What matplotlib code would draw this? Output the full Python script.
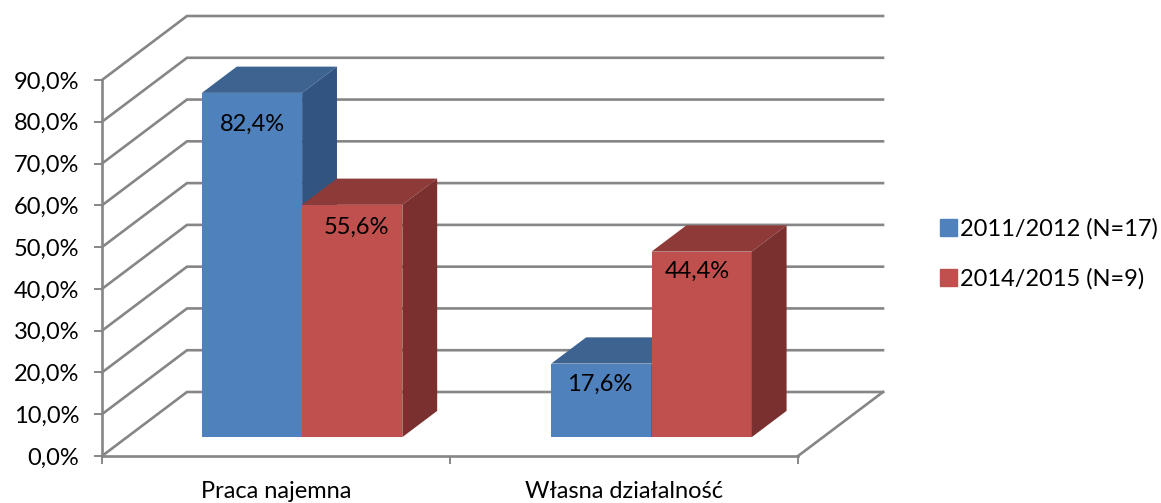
import matplotlib
matplotlib.use("Agg")
import matplotlib.pyplot as plt
from matplotlib.patches import Patch

plt.rcParams['font.family'] = ['Lato', 'DejaVu Sans']

categories = ["Praca najemna", "Własna działalność"]
series_names = ["2011/2012 (N=17)", "2014/2015 (N=9)"]
values_2011 = [82.4, 17.6]
values_2014 = [55.6, 44.4]
labels_2011 = ["82,4%", "17,6%"]
labels_2014 = ["55,6%", "44,4%"]
y_ticks = [0, 10, 20, 30, 40, 50, 60, 70, 80, 90]
y_tick_labels = ["0,0%", "10,0%", "20,0%", "30,0%", "40,0%", "50,0%", "60,0%", "70,0%", "80,0%", "90,0%"]

W, H = 1161, 503
GRID = "#868686"
TXT = "#000000"
FS = 17

# front plane of the fake 3d box, in pixels
L, R, T, B = 102, 798, 80, 456
# how far the back wall is shifted, in data units
DX = 85 / ((R - L) / 2)
DY = 64 / ((B - T) / 90)
BAR_W = 0.288
D0, D1 = 0.295, 0.705  # bar depth
group_x = [0.503, 1.507]


def proj(x, y, d):
    return x + d * DX, y + d * DY


fig = plt.figure(figsize=(W / 100, H / 100), dpi=100)
ax = fig.add_axes([L / W, 1 - B / H, (R - L) / W, (B - T) / H])
ax.set_xlim(0, 2)
ax.set_ylim(0, 90)
ax.patch.set_visible(False)

# walls
for v in y_ticks:
    x0, y0 = proj(0, v, 0)
    x1, y1 = proj(0, v, 1)
    x2, y2 = proj(2, v, 1)
    ax.plot([x0, x1, x2], [y0, y1, y2], color=GRID, lw=1.9, clip_on=False,
            solid_joinstyle="miter", zorder=1)
# floor right edge
x1, y1 = proj(2, 0, 0)
x2, y2 = proj(2, 0, 1)
ax.plot([x1, x2], [y1, y2], color=GRID, lw=1.9, clip_on=False, zorder=1)


def draw_bar(xc, val, front, top, side):
    x0 = xc - BAR_W / 2
    x1 = xc + BAR_W / 2
    ax.bar(proj(x0, 0, D0)[0], val, width=BAR_W, bottom=D0 * DY, align="edge",
           color=front, zorder=3, clip_on=False)
    ax.fill(*zip(proj(x0, val, D0), proj(x1, val, D0), proj(x1, val, D1), proj(x0, val, D1)),
            color=top, lw=0, zorder=3, clip_on=False)
    ax.fill(*zip(proj(x1, 0, D0), proj(x1, val, D0), proj(x1, val, D1), proj(x1, 0, D1)),
            color=side, lw=0, zorder=3, clip_on=False)


label_off_2011 = [(0, -31), (-2, -21)]
label_off_2014 = [(4, -23), (-4, -20)]
for i in range(2):
    xa = group_x[i] - BAR_W / 2
    xb = group_x[i] + BAR_W / 2
    draw_bar(xa, values_2011[i], "#4F81BD", "#3D6390", "#325480")
    draw_bar(xb, values_2014[i], "#C0504D", "#8E3A38", "#7A302E")
    for xc, v, s, off in [(xa, values_2011[i], labels_2011[i], label_off_2011[i]),
                          (xb, values_2014[i], labels_2014[i], label_off_2014[i])]:
        ax.annotate(s, proj(xc, v, D0), xytext=(off[0] * 0.72, off[1] * 0.72),
                    textcoords="offset points", ha="center", va="center",
                    fontsize=FS, color=TXT, zorder=5)

for sp in ["top", "right"]:
    ax.spines[sp].set_visible(False)
for sp in ["left", "bottom"]:
    ax.spines[sp].set_color(GRID)
    ax.spines[sp].set_linewidth(1.9)

ax.set_yticks(y_ticks)
ax.set_yticklabels(y_tick_labels, fontsize=FS, color=TXT)
ax.tick_params(axis="y", length=5.5, width=1.4, color=GRID, pad=11)
ax.set_xticks([0, 1, 2])
ax.set_xticklabels([])
ax.tick_params(axis="x", which="major", length=6, width=1.4, color=GRID)
ax.set_xticks([0.5, 1.5], minor=True)
ax.set_xticklabels(categories, minor=True, fontsize=FS, color=TXT)
ax.tick_params(axis="x", which="minor", length=0, pad=18)

handles = [Patch(color="#4F81BD"), Patch(color="#C0504D")]
fig.legend(handles, series_names, loc="center left", bbox_to_anchor=(940 / W, 1 - 254 / H),
           frameon=False, fontsize=FS, handlelength=0.72, handleheight=0.72,
           handletextpad=0.13, labelspacing=1.2, borderpad=0, borderaxespad=0)

fig.savefig("out.png", dpi=100)
